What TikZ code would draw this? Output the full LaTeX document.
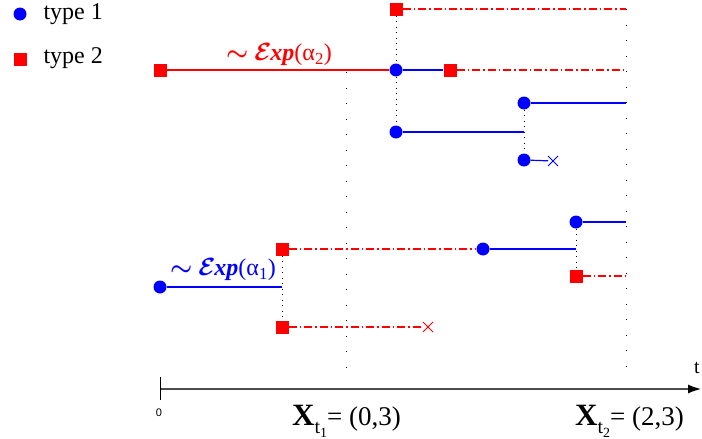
\documentclass[tikz,border=0pt]{standalone}
\usepackage{fontspec}
\setmainfont{Liberation Serif}
\setsansfont{Liberation Sans}
\usepackage{bm}
\usetikzlibrary{shapes.misc,arrows.meta}
\begin{document}
\begin{tikzpicture}[x=1pt,y=-1pt,
  t1/.style={circle,fill=blue,inner sep=0pt,minimum size=13pt},
  t2/.style={rectangle,fill=red,inner sep=0pt,minimum size=13pt},
  kill/.style={cross out,draw,inner sep=0pt,minimum size=9pt,line width=1pt},
  bl/.style={blue,line width=1.2pt},
  rs/.style={red,line width=1.2pt},
  rd/.style={red,line width=1.2pt,dash pattern=on 8pt off 3pt on 1.5pt off 3pt},
  jump/.style={black,line width=0.9pt,dash pattern=on 1pt off 4.5pt},
  tline/.style={black,line width=0.9pt,dash pattern=on 1pt off 14.5pt},
  lbl/.style={font=\fontsize{24}{28}\selectfont\bfseries\itshape},
  leg/.style={font=\fontsize{24}{28}\selectfont,anchor=west}]
\useasboundingbox (0,0) rectangle (702,439);
% legend
\node[t1] (l1) at (20,14) {};
\node[leg] (l1t) at (40,14) {type 1};
\node[t2] (l2) at (20,59) {};
\node[leg] (l2t) at (40,58) {type 2};
% time marks
\coordinate (v1a) at (346,72);
\coordinate (v1b) at (346,378);
\coordinate (v2a) at (626,9);
\coordinate (v2b) at (626,378);
\draw[tline] (v1a) -- (v1b);
\draw[tline] (v2a) -- (v2b);
% upper family
\node[t2] (s0) at (160,70) {};
\node[t1] (a1) at (396,70) {};
\node[t2] (s1) at (396,9) {};
\node[t2] (s2) at (450,70) {};
\node[t1] (a2) at (396,132) {};
\coordinate (e2) at (524,132);
\node[t1] (a3) at (524,103) {};
\node[t1] (a4) at (524,160) {};
\node[kill,blue] (k1) at (553,161) {};
\coordinate (e1) at (626,9);
\coordinate (e3) at (626,70);
\coordinate (e4) at (626,103);
\draw[rs] (s0) -- (a1);
\draw[bl] (a1) -- (s2);
\draw[rd] (s2) -- (e3);
\draw[rd] (s1) -- (e1);
\draw[jump] (s1) -- (a1);
\draw[jump] (a1) -- (a2);
\draw[bl] (a2) -- (e2);
\draw[jump] (a3) -- (a4);
\draw[bl] (a3) -- (e4);
\draw[bl] (a4) -- (k1);
\node[lbl,red] (lab2) at (279,55) {$\bm{\sim}$ $\bm{\mathcal{E}}$\kern-1pt xp\textup{\mdseries(α\textsubscript{2})}};
% lower family
\node[t1] (b0) at (160,287) {};
\coordinate (f0) at (282,287);
\node[t2] (q1) at (282,249) {};
\node[t2] (q2) at (282,327) {};
\node[kill,red] (k2) at (428,327) {};
\node[t1] (b1) at (483,249) {};
\coordinate (f1) at (576,249);
\node[t1] (b2) at (576,222) {};
\node[t2] (q3) at (576,276) {};
\coordinate (f2) at (626,222);
\coordinate (f3) at (626,276);
\draw[bl] (b0) -- (f0);
\draw[jump] (q1) -- (q2);
\draw[rd] (q1) -- (b1);
\draw[rd] (q2) -- (k2);
\draw[bl] (b1) -- (f1);
\draw[jump] (b2) -- (q3);
\draw[bl] (b2) -- (f2);
\draw[rd] (q3) -- (f3);
\node[lbl,blue] (lab1) at (223,270) {$\bm{\sim}$ $\bm{\mathcal{E}}$\kern-1pt xp\textup{\mdseries(α\textsubscript{1})}};
% axis
\coordinate (o) at (160,389);
\coordinate (tend) at (701,389);
\coordinate (tk1) at (160,377);
\coordinate (tk2) at (160,400);
\draw[black!70,line width=1.3pt,-{Latex[length=13pt,width=9pt,black]}] (o) -- (tend);
\draw[black,line width=1pt] (tk1) -- (tk2);
\node[font=\sffamily\fontsize{11}{13}\selectfont] (zero) at (159,413) {0};
\node[font=\fontsize{20}{24}\selectfont] (tlab) at (697,368) {t};
\node[anchor=base west,inner sep=0pt] (x1) at (292,425) {{\fontsize{31}{34}\selectfont\bfseries X}\raisebox{-8pt}{\fontsize{20}{24}\selectfont t\raisebox{-4pt}{\fontsize{14}{16}\selectfont 1}}{\fontsize{27}{30}\selectfont = (0,3)}};
\node[anchor=base west,inner sep=0pt] (x2) at (575,425) {{\fontsize{31}{34}\selectfont\bfseries X}\raisebox{-8pt}{\fontsize{20}{24}\selectfont t\raisebox{-4pt}{\fontsize{14}{16}\selectfont 2}}{\fontsize{27}{30}\selectfont = (2,3)}};
\end{tikzpicture}
\end{document}
